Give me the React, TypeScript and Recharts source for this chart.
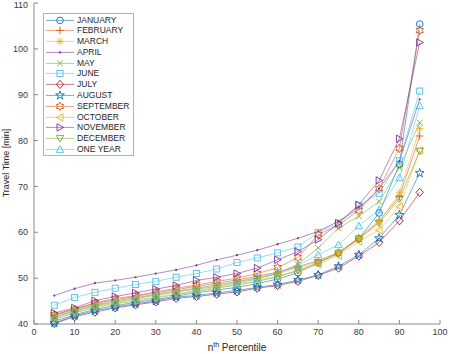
import React from 'react';
import { LineChart, Line, XAxis, YAxis, Legend } from 'recharts';

const percentiles = [5, 10, 15, 20, 25, 30, 35, 40, 45, 50, 55, 60, 65, 70, 75, 80, 85, 90, 95];

const january = [40.6, 42.0, 43.2, 44.0, 44.7, 45.3, 46.1, 46.8, 47.4, 48.0, 48.8, 49.8, 51.2, 53.3, 55.5, 58.6, 64.2, 74.8, 105.4];
const february = [42.0, 43.3, 44.5, 45.3, 46.0, 46.8, 47.5, 48.2, 48.9, 49.6, 50.4, 51.3, 52.5, 53.8, 55.6, 58.7, 62.5, 67.8, 81.0];
const march = [41.7, 43.0, 44.2, 45.0, 45.7, 46.4, 47.1, 47.8, 48.5, 49.2, 50.0, 51.0, 52.2, 53.6, 55.5, 58.9, 62.2, 68.6, 82.6];
const april = [46.2, 47.7, 48.9, 49.5, 50.2, 51.0, 51.8, 52.8, 54.0, 55.0, 56.1, 57.4, 58.7, 60.2, 62.4, 65.2, 69.5, 75.5, 89.0];
const may = [41.5, 42.8, 44.0, 44.8, 45.5, 46.3, 47.0, 47.6, 48.2, 49.0, 49.8, 51.0, 53.0, 56.6, 60.9, 63.5, 66.7, 74.1, 83.9];
const june = [44.1, 45.8, 46.9, 47.8, 48.6, 49.3, 50.2, 51.0, 52.0, 53.4, 54.4, 55.5, 56.8, 60.0, 62.0, 65.8, 68.5, 75.6, 90.8];
const july = [40.1, 41.6, 42.6, 43.5, 44.2, 44.8, 45.6, 46.0, 46.5, 47.0, 47.8, 48.4, 49.3, 50.6, 52.2, 54.8, 57.8, 62.5, 68.7];
const august = [40.2, 41.8, 42.9, 43.7, 44.4, 45.0, 45.9, 46.2, 46.8, 47.3, 48.0, 48.6, 49.6, 50.7, 52.6, 55.1, 58.7, 63.8, 72.9];
const september = [42.0, 43.2, 44.6, 45.5, 46.2, 47.0, 47.8, 48.5, 49.3, 50.0, 51.0, 52.3, 54.5, 59.5, 61.6, 64.8, 69.5, 78.3, 104.0];
const october = [41.3, 42.6, 43.8, 44.6, 45.2, 45.9, 46.6, 47.3, 48.0, 48.7, 49.5, 50.4, 51.6, 53.0, 54.9, 58.0, 60.5, 65.6, 77.8];
const november = [42.4, 43.5, 45.1, 46.0, 46.8, 47.6, 48.4, 49.5, 50.2, 51.0, 52.2, 54.0, 55.8, 58.4, 62.0, 66.0, 71.3, 80.4, 101.4];
const december = [41.0, 42.4, 43.6, 44.4, 45.0, 45.7, 46.4, 47.1, 47.8, 48.5, 49.3, 50.3, 51.7, 53.4, 55.3, 58.5, 62.0, 67.3, 77.7];
const oneYear = [41.6, 42.9, 44.2, 45.0, 45.7, 46.5, 47.2, 47.8, 48.5, 49.3, 50.1, 51.2, 52.8, 55.1, 57.3, 61.4, 64.9, 71.9, 87.6];

const seriesNames = ['JANUARY', 'FEBRUARY', 'MARCH', 'APRIL', 'MAY', 'JUNE', 'JULY', 'AUGUST', 'SEPTEMBER', 'OCTOBER', 'NOVEMBER', 'DECEMBER', 'ONE YEAR'];
const seriesValues = [january, february, march, april, may, june, july, august, september, october, november, december, oneYear];
const seriesColors = ['#0072BD', '#D95319', '#EDB120', '#7E2F8E', '#77AC30', '#4DBEEE', '#A2142F', '#0072BD', '#D95319', '#EDB120', '#7E2F8E', '#77AC30', '#4DBEEE'];
const seriesMarkers = ['o', '+', '*', '.', 'x', 's', 'd', 'p', 'h', '<', '>', 'v', '^'];

const xTicks = [0, 10, 20, 30, 40, 50, 60, 70, 80, 90, 100];
const yTicks = [40, 50, 60, 70, 80, 90, 100, 110];

const data = percentiles.map((p, i) => {
  const row: Record<string, number> = { p };
  seriesNames.forEach((n, k) => {
    row[n] = seriesValues[k][i];
  });
  return row;
});

const FONT = '"Liberation Sans", Arial, Helvetica, sans-serif';
const AXIS = '#8a8a8a';

function starPath(cx: number, cy: number, n: number, ro: number, ri: number) {
  const pts: string[] = [];
  for (let i = 0; i < n * 2; i++) {
    const r = i % 2 === 0 ? ro : ri;
    const a = -Math.PI / 2 + (i * Math.PI) / n;
    pts.push(`${(cx + r * Math.cos(a)).toFixed(2)},${(cy + r * Math.sin(a)).toFixed(2)}`);
  }
  return `M${pts.join('L')}Z`;
}

// matlab-style marker shapes, k scales them
function Marker({ type, cx, cy, color }: { type: string; cx: number; cy: number; color: string }) {
  const k = 1.15;
  const s = { fill: 'none', stroke: color, strokeWidth: 0.9 };
  const a = 3.3 * k;
  const t = 3.2 * k;
  const b = 2.6 * k;
  switch (type) {
    case 'o':
      return <circle cx={cx} cy={cy} r={2.9 * k} {...s} />;
    case '+':
      return <path d={`M${cx - a},${cy}H${cx + a}M${cx},${cy - a}V${cy + a}`} {...s} />;
    case '*': {
      const d = 2.4 * k;
      return (
        <path
          d={`M${cx - a},${cy}H${cx + a}M${cx},${cy - a}V${cy + a}M${cx - d},${cy - d}L${cx + d},${cy + d}M${cx - d},${cy + d}L${cx + d},${cy - d}`}
          {...s}
        />
      );
    }
    case '.':
      return <circle cx={cx} cy={cy} r={1.1} fill={color} stroke="none" />;
    case 'x': {
      const d = 2.6 * k;
      return <path d={`M${cx - d},${cy - d}L${cx + d},${cy + d}M${cx - d},${cy + d}L${cx + d},${cy - d}`} {...s} />;
    }
    case 's':
      return <rect x={cx - b} y={cy - b} width={2 * b} height={2 * b} {...s} />;
    case 'd':
      return <path d={`M${cx},${cy - 3.6 * k}L${cx + t},${cy}L${cx},${cy + 3.6 * k}L${cx - t},${cy}Z`} {...s} />;
    case 'p':
      return <path d={starPath(cx, cy, 5, 4.0 * k, 1.6 * k)} {...s} />;
    case 'h':
      return <path d={starPath(cx, cy, 6, 3.7 * k, 2.1 * k)} {...s} />;
    case '<':
      return <path d={`M${cx - t},${cy}L${cx + b},${cy - t}L${cx + b},${cy + t}Z`} {...s} />;
    case '>':
      return <path d={`M${cx + t},${cy}L${cx - b},${cy - t}L${cx - b},${cy + t}Z`} {...s} />;
    case 'v':
      return <path d={`M${cx},${cy + t}L${cx - t},${cy - b}L${cx + t},${cy - b}Z`} {...s} />;
    default:
      return <path d={`M${cx},${cy - t}L${cx - t},${cy + b}L${cx + t},${cy + b}Z`} {...s} />;
  }
}

const LegendBox = () => (
  <div
    style={{
      border: '1px solid #b0b0b0',
      background: '#fff',
      padding: '0.5px 4px 0.5px 0',
      fontFamily: FONT,
      fontSize: 8.5,
      color: '#262626',
    }}
  >
    {seriesNames.map((n, k) => (
      <div key={n} style={{ display: 'flex', alignItems: 'center', height: 10.8 }}>
        <svg width={33} height={10.8} style={{ display: 'block' }}>
          <line x1={2} x2={30} y1={5.4} y2={5.4} stroke={seriesColors[k]} strokeWidth={0.8} strokeOpacity={0.7} />
          <Marker type={seriesMarkers[k]} cx={16} cy={5.4} color={seriesColors[k]} />
        </svg>
        <span style={{ lineHeight: '10.8px', whiteSpace: 'nowrap' }}>{n}</span>
      </div>
    ))}
  </div>
);

const XLabel = () => (
  <text x={237} y={351} textAnchor="middle" fontFamily={FONT} fontSize={10} fill="#262626">
    <tspan>n</tspan>
    <tspan dy={-4} fontSize={7}>th</tspan>
    <tspan dy={4}> Percentile</tspan>
  </text>
);

const YLabel = () => (
  <text x={8.5} y={163} transform="rotate(-90, 8.5, 163)" textAnchor="middle" fontFamily={FONT} fontSize={9} fill="#262626">
    Travel Time [min]
  </text>
);

const noLabel = () => <g />;

export default function App() {
  return (
    <div style={{ position: 'absolute', left: 0, top: 0, width: 449, height: 354, background: '#fff' }}>
      <LineChart width={449} height={354} data={data} margin={{ top: 3, right: 9, bottom: 0, left: 0 }}>
        <XAxis
          dataKey="p"
          type="number"
          domain={[0, 100]}
          ticks={xTicks}
          height={30}
          stroke={AXIS}
          tickSize={-4}
          tickMargin={9}
          tick={{ fill: '#3a3a3a', fontSize: 9, fontFamily: FONT }}
          label={<XLabel />}
        />
        <XAxis
          xAxisId="top"
          orientation="top"
          dataKey="p"
          type="number"
          domain={[0, 100]}
          ticks={xTicks}
          height={0}
          stroke={AXIS}
          tickSize={-4}
          tick={noLabel}
        />
        <YAxis
          type="number"
          domain={[40, 110]}
          ticks={yTicks}
          width={34}
          stroke={AXIS}
          tickSize={-4}
          tickMargin={10}
          tick={{ fill: '#3a3a3a', fontSize: 9, fontFamily: FONT }}
          label={<YLabel />}
        />
        <YAxis
          yAxisId="right"
          orientation="right"
          type="number"
          domain={[40, 110]}
          ticks={yTicks}
          width={0}
          stroke={AXIS}
          tickSize={-4}
          tick={noLabel}
        />
        {seriesNames.map((n, k) => (
          <Line
            key={n}
            dataKey={n}
            name={n}
            type="linear"
            stroke={seriesColors[k]}
            strokeWidth={0.8}
            strokeOpacity={0.7}
            isAnimationActive={false}
            dot={(props: any) => (
              <Marker key={`${n}-${props.index}`} type={seriesMarkers[k]} cx={props.cx} cy={props.cy} color={seriesColors[k]} />
            )}
          />
        ))}
        <Legend
          layout="vertical"
          align="center"
          verticalAlign="middle"
          content={<LegendBox />}
          wrapperStyle={{ left: 43, top: 13, width: 'auto' }}
        />
      </LineChart>
    </div>
  );
}
